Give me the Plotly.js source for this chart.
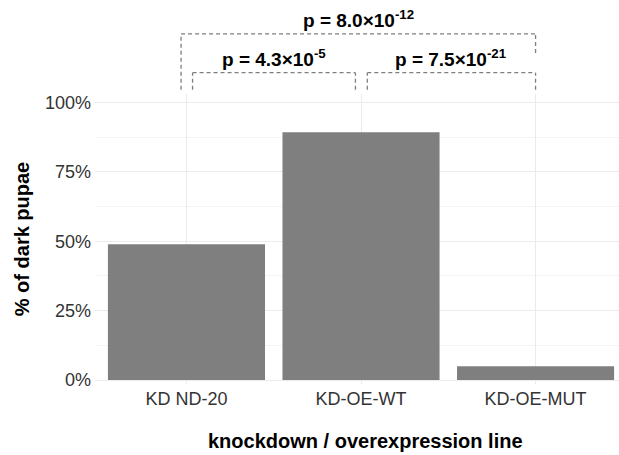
<!DOCTYPE html>
<html><head><meta charset="utf-8">
<script src="https://cdn.plot.ly/plotly-3.0.1.min.js"></script>
<style>html,body{margin:0;padding:0;background:#fff}</style>
</head><body>
<div id="chart" style="width:619px;height:455px"></div>
<script>
// ---- data ----
const categories = ["KD ND-20", "KD-OE-WT", "KD-OE-MUT"];
const darkPupaeFraction = [0.489, 0.893, 0.05];
const yTickValues = [0, 0.25, 0.5, 0.75, 1];
const yTickLabels = ["0%", "25%", "50%", "75%", "100%"];
const yMinorValues = [0.125, 0.375, 0.625, 0.875];
// significance comparisons
const compareLabels = ["p = 4.3×10<sup>-5</sup>", "p = 7.5×10<sup>-21</sup>", "p = 8.0×10<sup>-12</sup>"];
const bracketStart = [0.035, 1.036, -0.031];
const bracketEnd = [0.968, 2.0, 2.0];
const bracketHeight = [1.108, 1.108, 1.248];
const bracketTipStart = [1.046, 1.046, 1.046];
const bracketTipEnd = [1.046, 1.046, 1.179];

// ---- chart ----
const yRange = [-0.0144, 1.031];
const toPaper = v => (v - yRange[0]) / (yRange[1] - yRange[0]);
const labelOffset = 0.054;

const lineStyle = {color: '#7F7F7F', width: 1.3, dash: '4px,3px'};
const shapes = [];
const annotations = [];
for (let i = 0; i < compareLabels.length; i++) {
  const yH = toPaper(bracketHeight[i]);
  shapes.push({type: 'line', xref: 'x', yref: 'paper', x0: bracketStart[i], x1: bracketStart[i], y0: toPaper(bracketTipStart[i]), y1: yH, line: lineStyle});
  shapes.push({type: 'line', xref: 'x', yref: 'paper', x0: bracketStart[i], x1: bracketEnd[i], y0: yH, y1: yH, line: lineStyle});
  shapes.push({type: 'line', xref: 'x', yref: 'paper', x0: bracketEnd[i], x1: bracketEnd[i], y0: toPaper(bracketTipEnd[i]), y1: yH, line: lineStyle});
  annotations.push({
    xref: 'x', yref: 'paper', x: (bracketStart[i] + bracketEnd[i]) / 2,
    y: toPaper(bracketHeight[i] + labelOffset), xanchor: 'center', yanchor: 'middle',
    text: compareLabels[i], showarrow: false,
    font: {family: 'Liberation Sans, Arial, sans-serif', size: 19, color: '#000', weight: 'bold'}
  });
}
// x-axis title (ggplot centres it on the full panel, which runs slightly past the right edge)
annotations.push({
  xref: 'paper', yref: 'paper', x: 0.5, xshift: 8, y: -0.197,
  xanchor: 'center', yanchor: 'middle', showarrow: false,
  text: 'knockdown / overexpression line',
  font: {family: 'Liberation Sans, Arial, sans-serif', size: 20, color: '#000', weight: 'bold'}
});

const trace = {
  type: 'bar', x: categories, y: darkPupaeFraction,
  marker: {color: '#7F7F7F', line: {width: 0}}, width: 0.9, hoverinfo: 'skip'
};

const layout = {
  width: 619, height: 455,
  margin: {l: 95, r: 0, t: 94, b: 71, pad: 0},
  paper_bgcolor: '#fff', plot_bgcolor: '#fff',
  font: {family: 'Liberation Sans, Arial, sans-serif', color: '#333333'},
  showlegend: false,
  xaxis: {
    type: 'category', range: [-0.524, 2.478],
    showgrid: true, gridcolor: '#EBEBEB', gridwidth: 1,
    showline: false, zeroline: false, ticks: '', automargin: false,
    tickfont: {size: 18, color: '#333333'}, ticklabelstandoff: 2
  },
  yaxis: {
    range: yRange, tickvals: yTickValues, ticktext: yTickLabels,
    showgrid: true, gridcolor: '#EBEBEB', gridwidth: 1,
    minor: {tickvals: yMinorValues, showgrid: true, gridcolor: '#F0F0F0', gridwidth: 0.8},
    showline: false, zeroline: false, ticks: '', automargin: false,
    tickfont: {size: 18, color: '#333333'}, ticklabelstandoff: 3,
    title: {text: '% of dark pupae', standoff: 9,
      font: {size: 20, color: '#000', weight: 'bold'}}
  },
  shapes: shapes,
  annotations: annotations
};

Plotly.newPlot('chart', [trace], layout, {displayModeBar: false, staticPlot: true});
</script>
</body></html>
